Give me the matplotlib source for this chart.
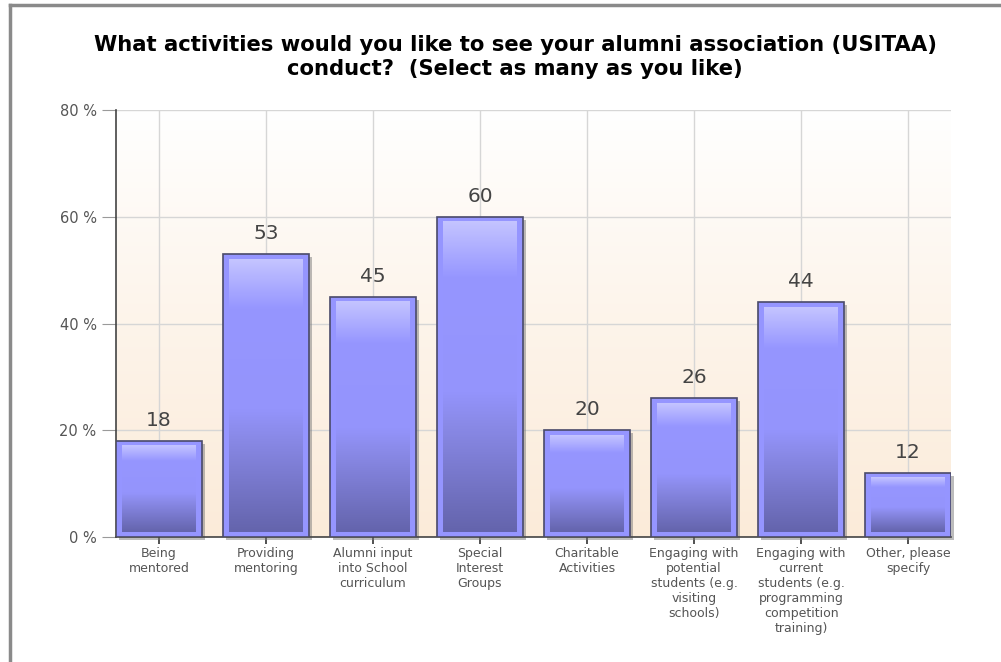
import numpy as np
import matplotlib
matplotlib.use("Agg")
import matplotlib.pyplot as plt
from matplotlib.colors import LinearSegmentedColormap
from matplotlib.patches import Rectangle
from matplotlib.lines import Line2D

plt.rcParams['font.family'] = ['DejaVu Sans']

title = ("What activities would you like to see your alumni association (USITAA)\n"
         "conduct?  (Select as many as you like)")
categories = ["Being\nmentored", "Providing\nmentoring", "Alumni input\ninto School\ncurriculum",
              "Special\nInterest\nGroups", "Charitable\nActivities",
              "Engaging with\npotential\nstudents (e.g.\nvisiting\nschools)",
              "Engaging with\ncurrent\nstudents (e.g.\nprogramming\ncompetition\ntraining)",
              "Other, please\nspecify"]
values = [18, 53, 45, 60, 20, 26, 44, 12]
yticks = [0, 20, 40, 60, 80]

W, H = 1001, 662
fig = plt.figure(figsize=(W / 100, H / 100), dpi=100)
fig.patch.set_facecolor('white')

# outer frame (top and left edges)
fig.add_artist(Line2D([10 / W, 1], [1 - 5 / H, 1 - 5 / H], color='#8a8a8a', lw=2.5))
fig.add_artist(Line2D([10 / W, 10 / W], [0, 1 - 5 / H], color='#8a8a8a', lw=2.5))

x0, x1, ytop, ybot = 116, 951, 110, 537
ax = fig.add_axes([x0 / W, 1 - ybot / H, (x1 - x0) / W, (ybot - ytop) / H])
ax.set_xlim(-0.4, len(values) - 0.6)
ax.set_ylim(0, 80)

# background gradient white -> peach
bg = LinearSegmentedColormap.from_list('bg', ['#fbebd9', '#fdf4ea', '#ffffff'])
ax.imshow(np.linspace(0, 1, 256).reshape(-1, 1)[::-1], cmap=bg, aspect='auto',
          extent=[0, 1, 0, 1], transform=ax.transAxes, zorder=0)

for y in yticks:
    ax.axhline(y, color='#d6d6d6', lw=1, zorder=1)
for i in range(len(values)):
    ax.axvline(i, color='#d6d6d6', lw=1, zorder=1)

# bar look
px_x = (len(values) - 0.2) / (x1 - x0)   # data units per pixel, x
px_y = 80 / (ybot - ytop)                 # data units per pixel, y
barcm = LinearSegmentedColormap.from_list(
    'bar', [(0, '#6464ac'), (0.35, '#8a8ae8'), (0.45, '#9494fc'),
            (0.82, '#9696ff'), (1, '#c4c4ff')])
bw = 0.8
for i, v in enumerate(values):
    l = i - bw / 2
    # shadow
    ax.add_patch(Rectangle((l + 3 * px_x, -3 * px_y), bw, v, facecolor='#7a7a7a',
                           edgecolor='none', alpha=0.5, zorder=2, clip_on=False))
    ax.add_patch(Rectangle((l, 0), bw, v, facecolor='#9595ff', edgecolor='#4a4a6a',
                           lw=1.2, zorder=3))
    ax.imshow(np.linspace(0, 1, 256).reshape(-1, 1)[::-1], cmap=barcm, aspect='auto',
              extent=[l + 6 * px_x, l + bw - 6 * px_x, 5 * px_y, v - 5 * px_y],
              zorder=4)
    ax.annotate(str(v), (i, v), xytext=(0, 8), textcoords='offset points',
                ha='center', va='bottom', fontsize=14.5, color='#444444', zorder=5)

ax.set_xlim(-0.4, len(values) - 0.6)
ax.set_ylim(0, 80)

ax.set_yticks(yticks)
ax.set_yticklabels([f"{t} %" for t in yticks], fontsize=10.5, color='#555555')
ax.set_xticks(range(len(values)))
ax.set_xticklabels(categories, fontsize=9, color='#555555', linespacing=1.2)
ax.tick_params(axis='y', length=10, color='#9a9a9a', pad=4)
ax.tick_params(axis='x', length=5, color='#333333', width=1.2, pad=2)

for s in ['top', 'right']:
    ax.spines[s].set_visible(False)
ax.spines['left'].set_color('#444444')
ax.spines['bottom'].set_color('#444444')
ax.spines['left'].set_linewidth(1.2)
ax.spines['bottom'].set_linewidth(1.2)

fig.text(515 / W, 1 - 57 / H, title, ha='center', va='center', fontsize=15.2,
         fontweight='bold', color='black', linespacing=1.2)

fig.savefig('out.png', dpi=100)
